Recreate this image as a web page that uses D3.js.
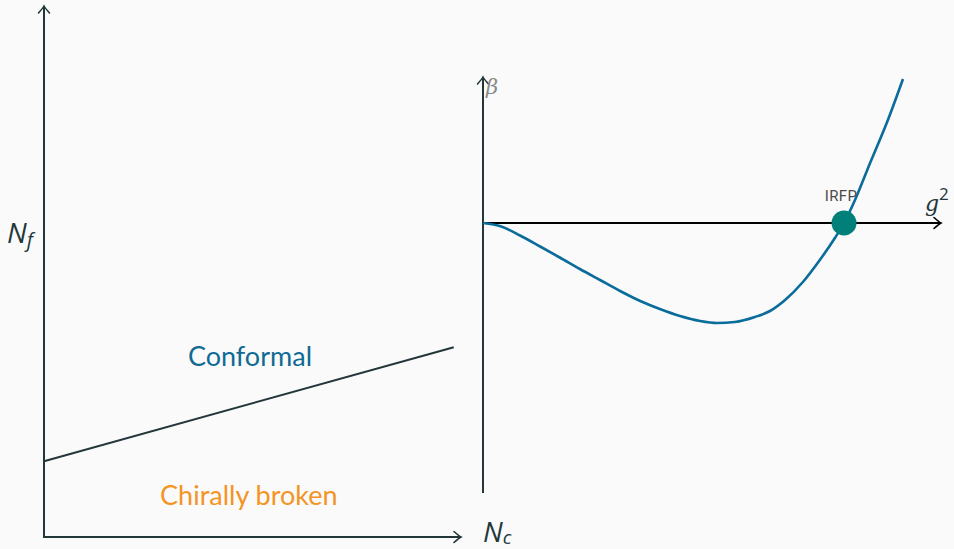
<!DOCTYPE html>
<html>
<head>
<meta charset="utf-8">
<script src="https://cdn.jsdelivr.net/npm/d3@7"></script>
<style>
  html, body { margin: 0; padding: 0; background: #fafafa; }
  svg { display: block; }
</style>
</head>
<body>
<svg id="chart" width="954" height="549"></svg>
<script>
// Phase diagram: boundary between the two regimes (Nc, Nf)
const boundaryNc = [0, 9.85];
const boundaryNf = [1.43, 3.58];
const regionLabels = [
  { text: "Conformal", nc: 3.46, nf: 3.23, color: "#0f6a94" },
  { text: "Chirally broken", nc: 2.79, nf: 0.6, color: "#f39424" }
];

// Beta function beta(g^2) with an infrared fixed point
const g2 = [0, 0.4, 0.81, 1.25, 1.68, 2.12, 2.56, 3.0, 3.44, 3.87, 4.31, 4.75, 5.12,
            5.51, 5.95, 6.28, 6.61, 7.0, 7.37, 7.70, 7.9, 8.14, 8.47, 8.86, 9.19];
const beta = [0, -0.07, -0.25, -0.47, -0.69, -0.92, -1.14, -1.36, -1.56, -1.72, -1.86, -1.96, -2.0,
              -1.98, -1.88, -1.76, -1.54, -1.18, -0.74, -0.30, 0, 0.46, 1.2, 2.06, 2.88];
const fixedPoint = { g2: 7.9, beta: 0, label: "IRFP" };

const svg = d3.select("#chart");
const ink = "#23373b";

function arrowHead(g, x, y, dir, color) {
  // LaTeX-style "to" tip, drawn pointing right then rotated
  const angle = { right: 0, up: -90 }[dir];
  g.append("path")
    .attr("d", "M-6,-5.5 Q-1,-1 1,0 Q-1,1 -6,5.5")
    .attr("transform", `translate(${x},${y}) rotate(${angle})`)
    .attr("fill", "none")
    .attr("stroke", color)
    .attr("stroke-width", 1.6)
    .attr("stroke-linecap", "round");
}

// ---------- left panel ----------
const left = svg.append("g");
const xL = d3.scaleLinear().domain([0, 10]).range([44, 460]);
const yL = d3.scaleLinear().domain([0, 10]).range([537, 7]);

left.append("line")
  .attr("x1", xL(0)).attr("y1", yL(0)).attr("x2", xL(0)).attr("y2", yL(10))
  .attr("stroke", ink).attr("stroke-width", 2);
left.append("line")
  .attr("x1", xL(0) - 1).attr("y1", yL(0)).attr("x2", xL(10)).attr("y2", yL(0))
  .attr("stroke", ink).attr("stroke-width", 2);
arrowHead(left, xL(0), yL(10), "up", ink);
arrowHead(left, xL(10), yL(0), "right", ink);

left.append("path")
  .datum(boundaryNc.map((d, i) => [d, boundaryNf[i]]))
  .attr("d", d3.line().x(d => xL(d[0])).y(d => yL(d[1])))
  .attr("fill", "none").attr("stroke", ink).attr("stroke-width", 2);

left.selectAll("text.region")
  .data(regionLabels)
  .join("text")
  .attr("class", "region")
  .attr("x", d => xL(d.nc)).attr("y", d => yL(d.nf))
  .attr("font-family", "Lato, 'Open Sans', sans-serif")
  .attr("font-size", 27)
  .attr("fill", d => d.color)
  .text(d => d.text);

// axis names
const nf = left.append("text")
  .attr("x", 7).attr("y", 243)
  .attr("font-family", "'Open Sans', sans-serif")
  .attr("font-style", "italic").attr("fill", ink);
nf.append("tspan").attr("font-size", 28).text("N");
nf.append("tspan").attr("font-size", 20).attr("dy", 4).text("f");

const nc = left.append("text")
  .attr("x", 483).attr("y", 542)
  .attr("font-family", "'Open Sans', sans-serif")
  .attr("font-style", "italic").attr("fill", ink);
nc.append("tspan").attr("font-size", 28).text("N");
nc.append("tspan").attr("font-size", 19).attr("dy", 2).text("c");

// ---------- right panel ----------
const right = svg.append("g");
const xR = d3.scaleLinear().domain([0, 10]).range([483, 940]);
const yR = d3.scaleLinear().domain([-5.4, 2.9]).range([493, 78]);

right.append("line")
  .attr("x1", xR(0)).attr("y1", yR(-5.4)).attr("x2", xR(0)).attr("y2", yR(2.9))
  .attr("stroke", ink).attr("stroke-width", 2);
arrowHead(right, xR(0), yR(2.9), "up", ink);
right.append("line")
  .attr("x1", xR(0)).attr("y1", yR(0)).attr("x2", xR(10)).attr("y2", yR(0))
  .attr("stroke", "#000").attr("stroke-width", 2);
arrowHead(right, xR(10), yR(0), "right", "#000");

right.append("text")
  .attr("x", 486).attr("y", 94)
  .attr("font-family", "'DejaVu Serif', serif")
  .attr("font-style", "italic")
  .attr("font-size", 21)
  .attr("fill", "#8a8a8a")
  .text("β");

const gl = right.append("text")
  .attr("x", 925).attr("y", 211)
  .attr("font-family", "'DejaVu Serif', serif")
  .attr("fill", ink);
gl.append("tspan").attr("font-style", "italic").attr("font-size", 22).text("g");
gl.append("tspan").attr("font-family", "'Open Sans', sans-serif").attr("font-size", 17).attr("dy", -11).text("2");

right.append("path")
  .datum(g2.map((d, i) => [d, beta[i]]))
  .attr("d", d3.line().curve(d3.curveMonotoneX).x(d => xR(d[0])).y(d => yR(d[1])))
  .attr("fill", "none").attr("stroke", "#0a6c9a").attr("stroke-width", 2.6);

right.append("circle")
  .attr("cx", xR(fixedPoint.g2)).attr("cy", yR(fixedPoint.beta)).attr("r", 12.5)
  .attr("fill", "#008079");
right.append("text")
  .attr("x", xR(fixedPoint.g2) - 3).attr("y", yR(fixedPoint.beta) - 22)
  .attr("text-anchor", "middle")
  .attr("font-family", "Roboto, sans-serif")
  .attr("font-size", 15)
  .attr("letter-spacing", 0.4)
  .attr("fill", "#4a4a4a")
  .text(fixedPoint.label);
</script>
</body>
</html>
